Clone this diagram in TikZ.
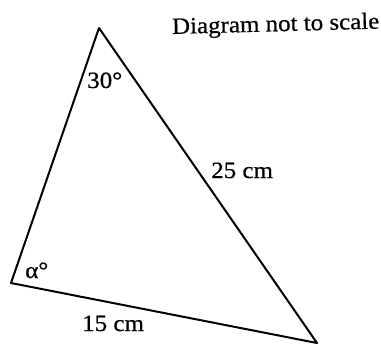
\documentclass[tikz,border=0pt]{standalone}
\usepackage{fontspec}
\setmainfont{Liberation Serif}[FakeStretch=1.07, FakeBold=0.6]

\begin{document}
\begin{tikzpicture}[x=0.75pt, y=-0.75pt, every node/.style={font=\fontsize{17.5}{21}\selectfont, inner sep=0pt}, side/.style={line width=1.5pt, line join=round}]
	\useasboundingbox (0,0) rectangle (381,347);
	\coordinate (A) at (99,28);
	\coordinate (B) at (11,283);
	\coordinate (C) at (317,343);
	\draw[side] (A) -- (B) -- (C) -- cycle;
	\node[anchor=base west, rotate=1.5] (note) at (172,34) {Diagram not to scale};
	\node[anchor=base west] (top) at (87,88) {30°};
	\node[anchor=base west] (left) at (25,278) {α°};
	\node[anchor=base west] (long) at (211,178) {25 cm};
	\node[anchor=base west] (short) at (82,331) {15 cm};
\end{tikzpicture}
\end{document}
